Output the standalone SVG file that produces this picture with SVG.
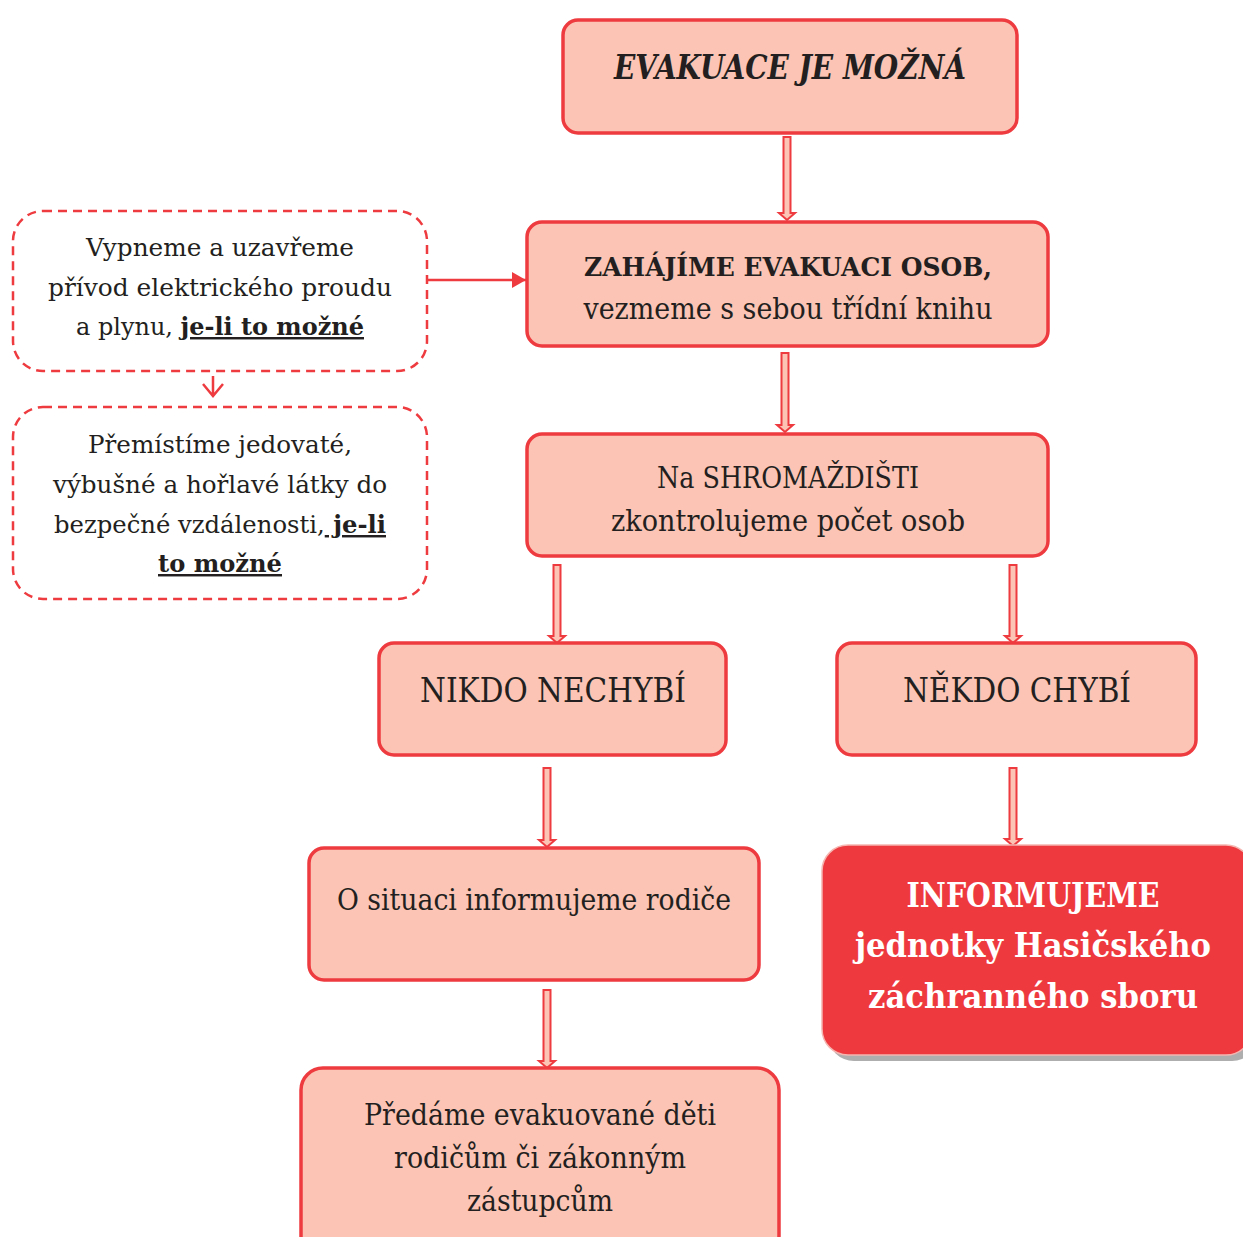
<svg xmlns="http://www.w3.org/2000/svg" width="1243" height="1237" viewBox="0 0 1243 1237">
<defs>
<style>
.box{fill:#FBC4B4;stroke:#EE3B40;stroke-width:3.5}
.dash{fill:#FFFFFF;stroke:#EE3B40;stroke-width:2.5;stroke-dasharray:9 6}
.arr{fill:#FBC4B4;stroke:#EE3B40;stroke-width:2;stroke-linejoin:miter}
.t{font-family:"DejaVu Serif","Liberation Serif",serif;fill:#231F20;text-anchor:middle}
.w{font-family:"DejaVu Serif","Liberation Serif",serif;fill:#FFFFFF;text-anchor:middle;font-weight:bold}
.b{font-weight:bold}
.u{font-weight:bold;text-decoration:underline}
</style>
<marker id="tri" viewBox="0 0 14 16" refX="14" refY="8" markerWidth="14" markerHeight="16" markerUnits="userSpaceOnUse" orient="auto">
<path d="M0,0 L14,8 L0,16 Z" fill="#EE3B40"/>
</marker>
</defs>
<rect width="1243" height="1237" fill="#FFFFFF"/>

<g id="connectors">
<path class="arr" d="M783.5,137 H790.5 V213 H795 L787,220 L779,213 H783.5 Z"/>
<path class="arr" d="M781.5,353 H788.5 V425 H793 L785,432 L777,425 H781.5 Z"/>
<path class="arr" d="M553.5,565 H560.5 V636 H565 L557,643 L549,636 H553.5 Z"/>
<path class="arr" d="M1009.5,565 H1016.5 V636 H1021 L1013,643 L1005,636 H1009.5 Z"/>
<path class="arr" d="M543.5,768 H550.5 V840 H555 L547,847 L539,840 H543.5 Z"/>
<path class="arr" d="M1009.5,768 H1016.5 V839 H1021 L1013,846 L1005,839 H1009.5 Z"/>
<path class="arr" d="M543.5,990 H550.5 V1061 H555 L547,1068 L539,1061 H543.5 Z"/>
<line x1="427" y1="280" x2="526" y2="280" stroke="#EE3B40" stroke-width="2.5" marker-end="url(#tri)"/>
<path d="M213,376 V396 M203,384 L213,396 L223,384" fill="none" stroke="#EE3B40" stroke-width="2.5"/>
</g>

<g id="n1">
<rect class="box" x="563" y="20" width="454" height="113" rx="15"/>
<text class="t" x="790" y="79" font-size="34" font-weight="bold" font-style="italic" textLength="352" lengthAdjust="spacingAndGlyphs">EVAKUACE JE MOŽNÁ</text>
</g>

<g id="n2">
<rect class="box" x="527" y="222" width="521" height="124" rx="15"/>
<text class="t b" x="788" y="276" font-size="26" textLength="408" lengthAdjust="spacingAndGlyphs">ZAHÁJÍME EVAKUACI OSOB,</text>
<text class="t" x="788" y="319" font-size="29" textLength="409" lengthAdjust="spacingAndGlyphs">vezmeme s sebou třídní knihu</text>
</g>

<g id="n3">
<rect class="box" x="527" y="434" width="521" height="122" rx="15"/>
<text class="t" x="788" y="488" font-size="29" textLength="262" lengthAdjust="spacingAndGlyphs">Na SHROMAŽDIŠTI</text>
<text class="t" x="788" y="531" font-size="29" textLength="354" lengthAdjust="spacingAndGlyphs">zkontrolujeme počet osob</text>
</g>

<g id="n4">
<rect class="box" x="379" y="643" width="347" height="112" rx="15"/>
<text class="t" x="553" y="702" font-size="34" textLength="266" lengthAdjust="spacingAndGlyphs">NIKDO NECHYBÍ</text>
</g>

<g id="n5">
<rect class="box" x="837" y="643" width="359" height="112" rx="15"/>
<text class="t" x="1017" y="702" font-size="34" textLength="228" lengthAdjust="spacingAndGlyphs">NĚKDO CHYBÍ</text>
</g>

<g id="n6">
<rect class="box" x="309" y="848" width="450" height="132" rx="15"/>
<text class="t" x="534" y="910" font-size="29" textLength="394" lengthAdjust="spacingAndGlyphs">O situaci informujeme rodiče</text>
</g>

<g id="n7">
<rect x="828" y="851" width="430" height="210" rx="26" fill="#9A9A9A" opacity="0.8"/>
<rect x="822" y="845" width="430" height="210" rx="26" fill="#EE3A3E" stroke="#F5B5B0" stroke-width="1.5"/>
<text class="w" x="1033" y="907" font-size="33" textLength="253" lengthAdjust="spacingAndGlyphs">INFORMUJEME</text>
<text class="w" x="1033" y="957" font-size="33" textLength="356" lengthAdjust="spacingAndGlyphs">jednotky Hasičského</text>
<text class="w" x="1033" y="1008" font-size="33" textLength="330" lengthAdjust="spacingAndGlyphs">záchranného sboru</text>
</g>

<g id="n8">
<rect class="box" x="301" y="1068" width="478" height="190" rx="22"/>
<text class="t" x="540" y="1125" font-size="29" textLength="352" lengthAdjust="spacingAndGlyphs">Předáme evakuované děti</text>
<text class="t" x="540" y="1168" font-size="29" textLength="292" lengthAdjust="spacingAndGlyphs">rodičům či zákonným</text>
<text class="t" x="540" y="1211" font-size="29" textLength="146" lengthAdjust="spacingAndGlyphs">zástupcům</text>
</g>

<g id="nA">
<rect class="dash" x="13" y="211" width="414" height="160" rx="30"/>
<text class="t" x="220" y="256" font-size="24.5" textLength="268" lengthAdjust="spacingAndGlyphs">Vypneme a uzavřeme</text>
<text class="t" x="220" y="296" font-size="24.5" textLength="344" lengthAdjust="spacingAndGlyphs">přívod elektrického proudu</text>
<text class="t" x="220" y="335" font-size="24.5" textLength="288" lengthAdjust="spacingAndGlyphs">a plynu, <tspan class="u">je-li to možné</tspan></text>
</g>

<g id="nB">
<rect class="dash" x="13" y="407" width="414" height="192" rx="30"/>
<text class="t" x="220" y="453" font-size="24.5" textLength="264" lengthAdjust="spacingAndGlyphs">Přemístíme jedovaté,</text>
<text class="t" x="220" y="493" font-size="24.5" textLength="334" lengthAdjust="spacingAndGlyphs">výbušné a hořlavé látky do</text>
<text class="t" x="220" y="533" font-size="24.5" textLength="332" lengthAdjust="spacingAndGlyphs">bezpečné vzdálenosti,<tspan class="u"> je-li</tspan></text>
<text class="t u" x="220" y="572" font-size="24.5" textLength="124" lengthAdjust="spacingAndGlyphs">to možné</text>
</g>
</svg>
